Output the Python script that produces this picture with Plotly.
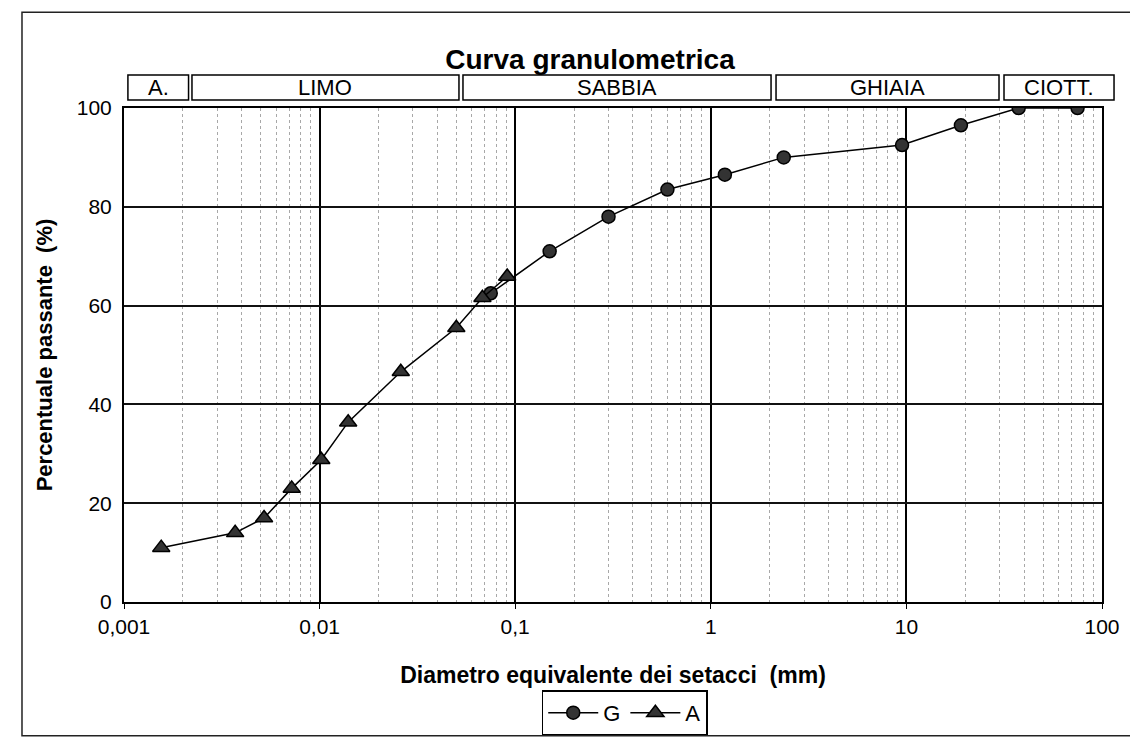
import plotly.graph_objects as go

# ---- data ----
G_diam = [0.075, 0.15, 0.3, 0.6, 1.18, 2.36, 9.5, 19, 37.5, 75]
G_pass = [62.5, 71, 78, 83.5, 86.5, 90, 92.5, 96.5, 100, 100]

A_diam = [0.00155, 0.0037, 0.0052, 0.0072, 0.0102, 0.014, 0.026, 0.05, 0.068, 0.091]
A_pass = [11, 14, 17, 23, 28.8, 36.4, 46.6, 55.5, 61.6, 65.9]

x_tickvals = [0.001, 0.01, 0.1, 1, 10, 100]
x_ticktext = ["0,001", "0,01", "0,1", "1", "10", "100"]
y_tickvals = [0, 20, 40, 60, 80, 100]

classes = ["A.", "LIMO", "SABBIA", "GHIAIA", "CIOTT."]
# header box extents (paper fractions of plot width)
class_x0 = [0.004, 0.0695, 0.3466, 0.6667, 0.8998]
class_x1 = [0.066, 0.3425, 0.6616, 0.8947, 1.0123]

FONT = "Liberation Sans, Arial, sans-serif"

# page body has an 8px margin: figure is sized so it fits the 1138x746 window
W, H = 1130, 738
OFF = 8

fig = go.Figure()
fig.add_trace(go.Scatter(
    x=G_diam, y=G_pass, name="G", mode="lines+markers",
    line=dict(color="black", width=1.5),
    marker=dict(symbol="circle", size=13, color="#333333",
                line=dict(color="black", width=1.5)),
))
fig.add_trace(go.Scatter(
    x=A_diam, y=A_pass, name="A", mode="lines+markers",
    line=dict(color="black", width=1.5),
    marker=dict(symbol="triangle-up", size=15, color="#333333",
                line=dict(color="black", width=1.5)),
))

shapes = []
annotations = []
# header class boxes
by0, by1 = 1.016, 1.067
for name, a, b in zip(classes, class_x0, class_x1):
    shapes.append(dict(type="rect", xref="paper", yref="paper",
                       x0=a, x1=b, y0=by0, y1=by1,
                       line=dict(color="black", width=1.5)))
    annotations.append(dict(xref="paper", yref="paper", x=(a + b) / 2,
                            y=(by0 + by1) / 2, text=name, showarrow=False,
                            font=dict(family=FONT, size=22, color="black"),
                            xanchor="center", yanchor="middle"))
# outer chart frame
shapes.append(dict(type="rect", xref="paper", yref="paper",
                   x0=-0.1043, x1=1.045, y0=-0.2707, y1=1.194,
                   line=dict(color="#222", width=1.5), layer="below"))

fig.update_layout(
    width=W, height=H,
    margin=dict(l=116, r=36, t=100, b=143),
    paper_bgcolor="white", plot_bgcolor="white",
    font=dict(family=FONT, size=21, color="black"),
    title=dict(text="<b>Curva granulometrica</b>", x=(590 - OFF) / W, xanchor="center",
               y=1 - (59 - OFF) / H, yanchor="middle",
               font=dict(family=FONT, size=28, color="black")),
    xaxis=dict(type="log", range=[-3, 2], tickvals=x_tickvals, ticktext=x_ticktext,
               showgrid=True, gridcolor="black", gridwidth=2,
               minor=dict(dtick="D1", showgrid=True, gridcolor="#a8a8a8",
                          griddash="dot", gridwidth=1, ticks=""),
               ticks="outside", ticklen=5, tickcolor="black",
               showline=True, linecolor="black", linewidth=2, mirror=True,
               zeroline=False,
               title=dict(text="<b>Diametro equivalente dei setacci  (mm)</b>",
                          font=dict(family=FONT, size=23), standoff=30),
               tickfont=dict(family=FONT, size=21)),
    yaxis=dict(range=[0, 100], tickvals=y_tickvals,
               showgrid=True, gridcolor="#111", gridwidth=1.5,
               showline=True, linecolor="black", linewidth=2, mirror=True,
               zeroline=False, ticks="", ticklabelstandoff=6,
               title=dict(text="<b>Percentuale passante  (%)</b>",
                          font=dict(family=FONT, size=22), standoff=18),
               tickfont=dict(family=FONT, size=21)),
    legend=dict(orientation="h", x=0.512, y=-0.222, xanchor="center", yanchor="middle",
                bordercolor="black", borderwidth=1.5, bgcolor="white",
                font=dict(family=FONT, size=22), itemwidth=50,
                tracegroupgap=0),
    shapes=shapes,
    annotations=annotations,
    showlegend=True,
)

fig.write_html("out.html")
